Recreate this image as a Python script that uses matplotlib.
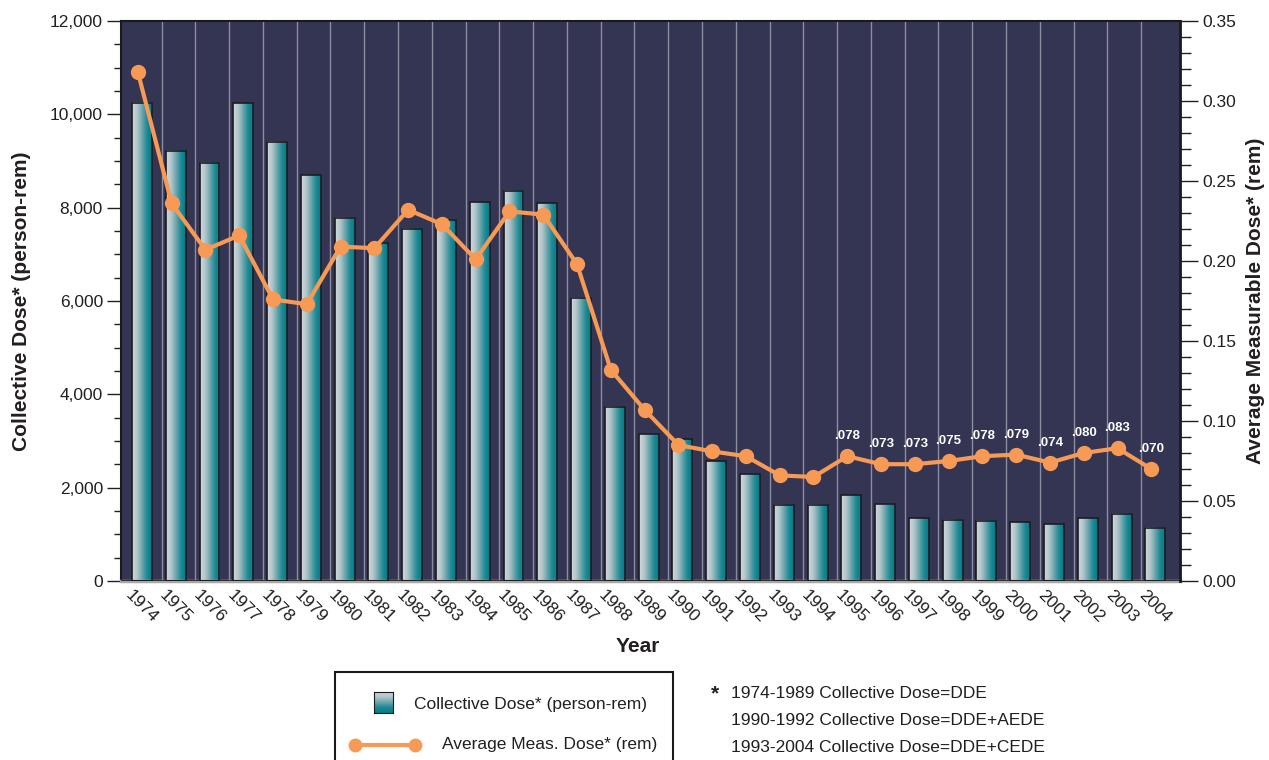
import numpy as np
import matplotlib.pyplot as plt
from matplotlib.colors import LinearSegmentedColormap
from matplotlib.ticker import MultipleLocator, FuncFormatter
from matplotlib.patches import Rectangle
from matplotlib.lines import Line2D

plt.rcParams['font.family'] = ['Liberation Sans', 'DejaVu Sans']

# data
years = list(range(1974, 2005))
collective_dose = [10250, 9220, 8960, 10240, 9410, 8700, 7780, 7240, 7550, 7740,
                   8120, 8360, 8100, 6070, 3730, 3150, 3040, 2570, 2290, 1630,
                   1630, 1840, 1650, 1350, 1310, 1290, 1260, 1220, 1350, 1440, 1140]
avg_dose = [0.318, 0.236, 0.207, 0.216, 0.176, 0.173, 0.209, 0.208, 0.232, 0.223,
            0.201, 0.231, 0.229, 0.198, 0.132, 0.107, 0.085, 0.081, 0.078, 0.066,
            0.065, 0.078, 0.073, 0.073, 0.075, 0.078, 0.079, 0.074, 0.080, 0.083, 0.070]
label_from = 1995
footnotes = ["1974-1989 Collective Dose=DDE",
             "1990-1992 Collective Dose=DDE+AEDE",
             "1993-2004 Collective Dose=DDE+CEDE"]

W, H = 1269, 760
fx = lambda p: p / W
fy = lambda p: 1 - p / H

bg = '#343453'
orange = '#f79a55'
txt = '#231f20'
bar_cmap = LinearSegmentedColormap.from_list(
    'bar', ['#d0d8dc', '#b3c6cb', '#6ea6ad', '#1f8a94', '#007d88'])

fig = plt.figure(figsize=(W / 100, H / 100), dpi=100)
ax = fig.add_axes([fx(121), fy(581), (1180 - 121) / W, 560 / H])
ax.set_facecolor(bg)

x = np.arange(len(years))
bar_off = 0.12
bar_w = 0.59

# vertical separators
ax.vlines(x[:-1] + 0.7, 0, 12000, color='#8e8ea2', lw=1, zorder=1)

# gradient bars
grad = np.linspace(0, 1, 64).reshape(1, -1)
for xi, h in zip(x, collective_dose):
    l = xi + bar_off - bar_w / 2
    ax.imshow(grad, extent=(l, l + bar_w, 0, h), aspect='auto', cmap=bar_cmap,
              zorder=2, interpolation='bilinear')
ax.bar(x + bar_off, collective_dose, width=bar_w, facecolor='none',
       edgecolor='#1c1c22', lw=1.2, zorder=3)

ax.set_xlim(-0.5, 30.85)
ax.set_ylim(0, 12000)
ax.yaxis.set_major_locator(MultipleLocator(2000))
ax.yaxis.set_minor_locator(MultipleLocator(500))
ax.yaxis.set_major_formatter(FuncFormatter(lambda v, p: f"{v:,.0f}"))
ax.tick_params(axis='y', which='major', length=10, width=1, labelsize=12.5,
               colors=txt, pad=3)
ax.tick_params(axis='y', which='minor', length=5, width=1, colors=txt)
ax.set_xticks(x + bar_off)
ax.set_xticklabels([str(y) for y in years], rotation=-45, ha='center',
                   va='top', fontsize=12.5, color=txt)
ax.tick_params(axis='x', length=0, pad=5)

for s in ['top', 'left']:
    ax.spines[s].set_color('#1a1a1a')
    ax.spines[s].set_linewidth(1.5)
ax.spines['bottom'].set_color('#a8a8a8')
ax.spines['bottom'].set_linewidth(2.5)
ax.spines['right'].set_visible(False)
ax.axhline(0, color='#1a1a1a', lw=1.2, zorder=4)

ax.set_ylabel('Collective Dose* (person-rem)', fontsize=15, fontweight='bold',
              color=txt)
ax.yaxis.set_label_coords((31 - 121) / 1059, 0.5)
ax.set_xlabel('Year', fontsize=15, fontweight='bold', color=txt)
ax.xaxis.set_label_coords((638 - 121) / 1059, -(637 - 581) / 560)

# average measurable dose line
ax2 = ax.twinx()
ax2.plot(x, avg_dose, color=orange, lw=3, marker='o', ms=10, zorder=5,
         solid_capstyle='round')
ax2.set_ylim(0, 0.35)
ax2.yaxis.set_major_locator(MultipleLocator(0.05))
ax2.yaxis.set_minor_locator(MultipleLocator(0.01))
ax2.yaxis.set_major_formatter(FuncFormatter(lambda v, p: f"{v:.2f}"))
ax2.tick_params(axis='y', which='major', length=13, width=1, labelsize=12.5,
                colors=txt, pad=3)
ax2.tick_params(axis='y', which='minor', length=8, width=1, colors=txt)
ax2.spines['right'].set_color('#1a1a1a')
ax2.spines['right'].set_linewidth(2)
for s in ['top', 'left', 'bottom']:
    ax2.spines[s].set_visible(False)
ax2.set_ylabel('Average Measurable Dose* (rem)', fontsize=15, fontweight='bold',
               color=txt)
ax2.yaxis.set_label_coords((1246 - 121) / 1059, 0.5)

for xi, yr, v in zip(x, years, avg_dose):
    if yr >= label_from:
        ax2.annotate(f"{v:.3f}"[1:], (xi, v), xytext=(0, 10),
                     textcoords='offset points', ha='center', va='bottom',
                     color='white', fontsize=9.5, fontweight='bold')

# legend box
fig.add_artist(Rectangle((fx(335), fy(800)), (673 - 335) / W, 128 / H,
                         transform=fig.transFigure, facecolor='white',
                         edgecolor='#1a1a1a', lw=1.5, zorder=0))
icon = fig.add_axes([fx(374), fy(713), 19 / W, 21 / H])
icon.set_zorder(3)
icon.imshow(np.linspace(0, 1, 32).reshape(-1, 1), aspect='auto', cmap=bar_cmap)
icon.set_xticks([])
icon.set_yticks([])
for s in icon.spines.values():
    s.set_color('#1a1a1a')
fig.text(fx(414), fy(704), 'Collective Dose* (person-rem)', fontsize=12.5,
         color=txt, va='center')
fig.add_artist(Line2D([fx(355), fx(415)], [fy(745), fy(745)], color=orange,
                      lw=3, marker='o', ms=9, transform=fig.transFigure))
fig.text(fx(442), fy(745), 'Average Meas. Dose* (rem)', fontsize=12.5,
         color=txt, va='center')

# footnote
fig.text(fx(711), fy(694), '*', fontsize=15, fontweight='bold', color=txt,
         va='center')
for i, line in enumerate(footnotes):
    fig.text(fx(731), fy(693 + 27.5 * i), line, fontsize=12.5, color=txt,
             va='center')

fig.savefig('out.png', dpi=100)
